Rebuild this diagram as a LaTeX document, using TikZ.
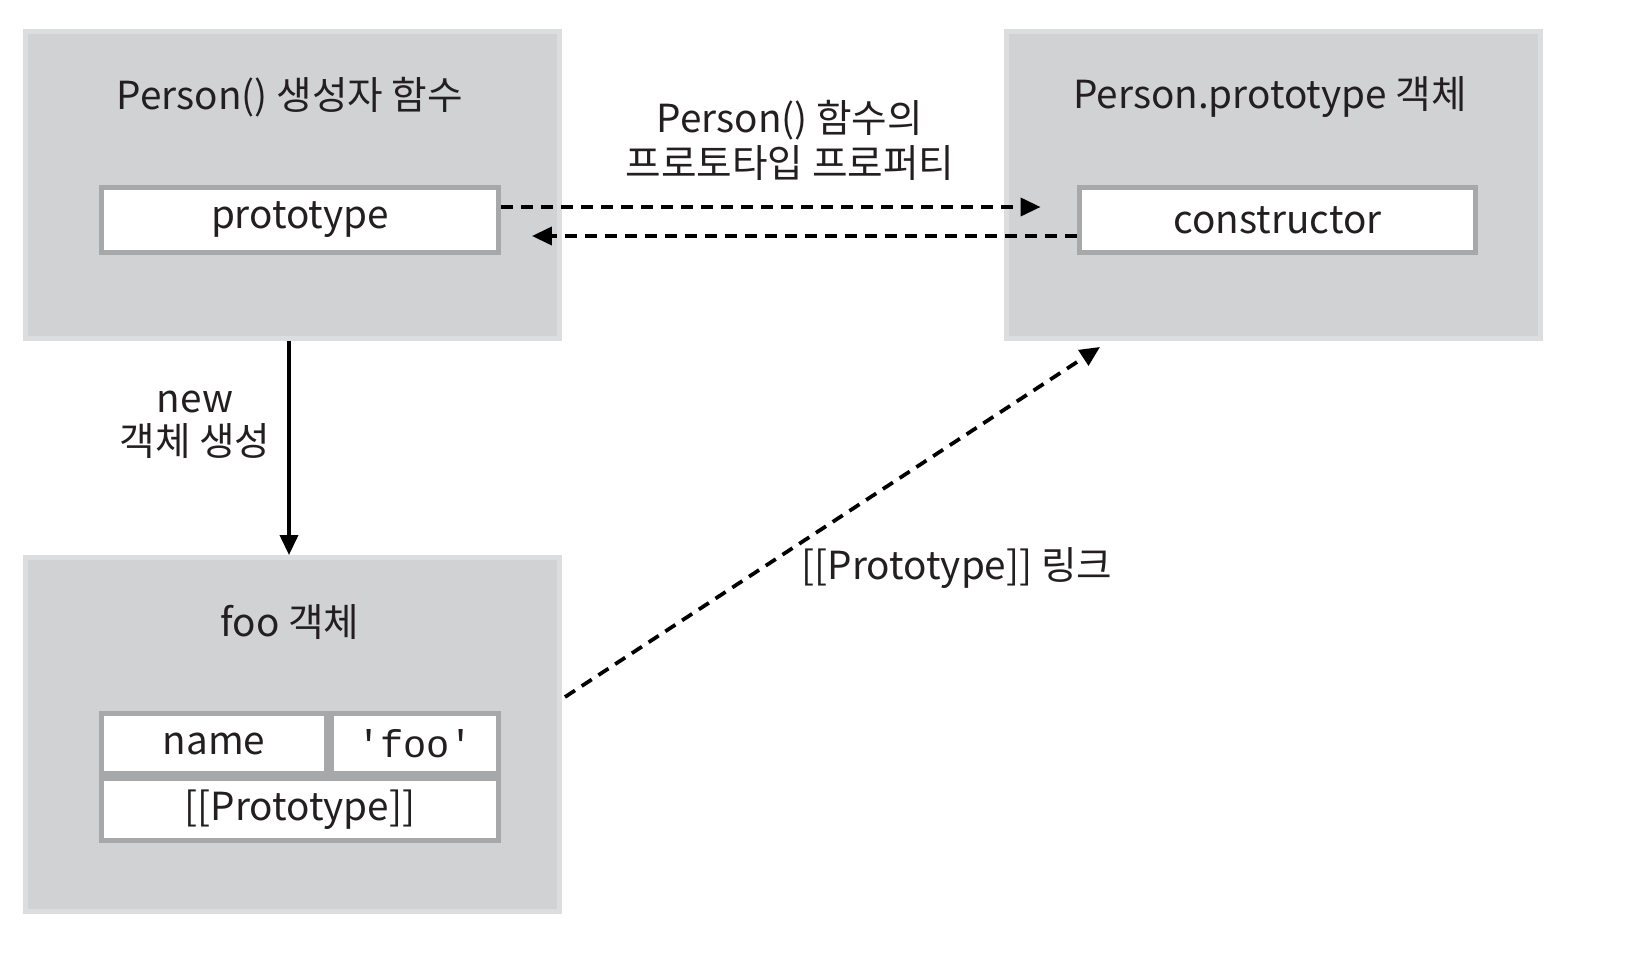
\documentclass[tikz,border=0pt]{standalone}
\usepackage{fontspec}
\setmainfont{Noto Sans CJK KR}
\setmonofont{Liberation Mono}
\usetikzlibrary{arrows.meta}
\definecolor{panelgray}{HTML}{D1D2D4}
\definecolor{paneledge}{HTML}{DCDDDF}
\definecolor{cellline}{HTML}{A7A8AA}
\definecolor{ink}{HTML}{231F20}
\tikzset{
  >={Triangle[length=0.4cm,width=0.36cm]},
}
\tikzstyle{every node}=[font=\fontsize{22}{26}\selectfont, text=ink]
\tikzstyle{panel}=[fill=panelgray, draw=paneledge, line width=0.1cm, minimum width=10.68cm, inner sep=0]
\tikzstyle{cell}=[fill=white, draw=cellline, line width=0.1cm, inner sep=0]
\tikzstyle{link}=[line width=0.075cm, dash pattern=on 0.24cm off 0.16cm, ->]

\begin{document}
\begin{tikzpicture}[x=0.02cm, y=-0.02cm]
    \useasboundingbox (0,0) rectangle (1630,974);
    % the three objects
    \node[panel, minimum height=6.14cm] (fn) at (292.5,185) {};
    \node[panel, minimum height=6.14cm] (pobj) at (1273.5,185) {};
    \node[panel, minimum height=7.08cm] (foo) at (292.5,734.5) {};
    \node (fntitle) at (290,97) {Person() 생성자 함수};
    \node (pobjtitle) at (1270,97) {Person.prototype 객체};
    \node (footitle) at (290,622) {foo 객체};
    % properties
    \node[cell, minimum width=7.94cm, minimum height=1.3cm] (proto) at (300,220) {prototype};
    \node[cell, minimum width=7.94cm, minimum height=1.3cm] (cons) at (1277.5,220) {constructor};
    \node[cell, minimum width=4.5cm, minimum height=1.2cm] (name) at (214,743.5) {name};
    \node[cell, minimum width=3.34cm, minimum height=1.2cm, font=\fontsize{22}{26}\ttfamily] (value) at (415,743.5) {'foo'};
    \node[cell, minimum width=7.94cm, minimum height=1.24cm] (link) at (300,809.5) {[[Prototype]]};
    % connectors
    \draw[link] ([yshift=0.26cm]proto.east) -- ([xshift=-0.72cm,yshift=0.26cm]cons.west);
    \draw[link] ([yshift=-0.32cm]cons.west) -- ([xshift=0.62cm,yshift=-0.32cm]proto.east);
    \draw[line width=0.075cm, ->] ([xshift=-0.07cm]fn.south) -- ([xshift=-0.07cm]foo.north);
    \draw[link] ([xshift=0.06cm,yshift=0.75cm]foo.east) -- ([xshift=1.92cm,yshift=-0.12cm]pobj.south west);
    % labels
    \node[align=center, font=\fontsize{22}{25.6}\selectfont] (protolabel) at (790,140) {Person() 함수의\\프로토타입 프로퍼티};
    \node[align=center, font=\fontsize{22}{24.5}\selectfont] (newlabel) at (195,425) {new\\객체 생성};
    \node (linklabel) at (957,568) {[[Prototype]] 링크};
\end{tikzpicture}
\end{document}
